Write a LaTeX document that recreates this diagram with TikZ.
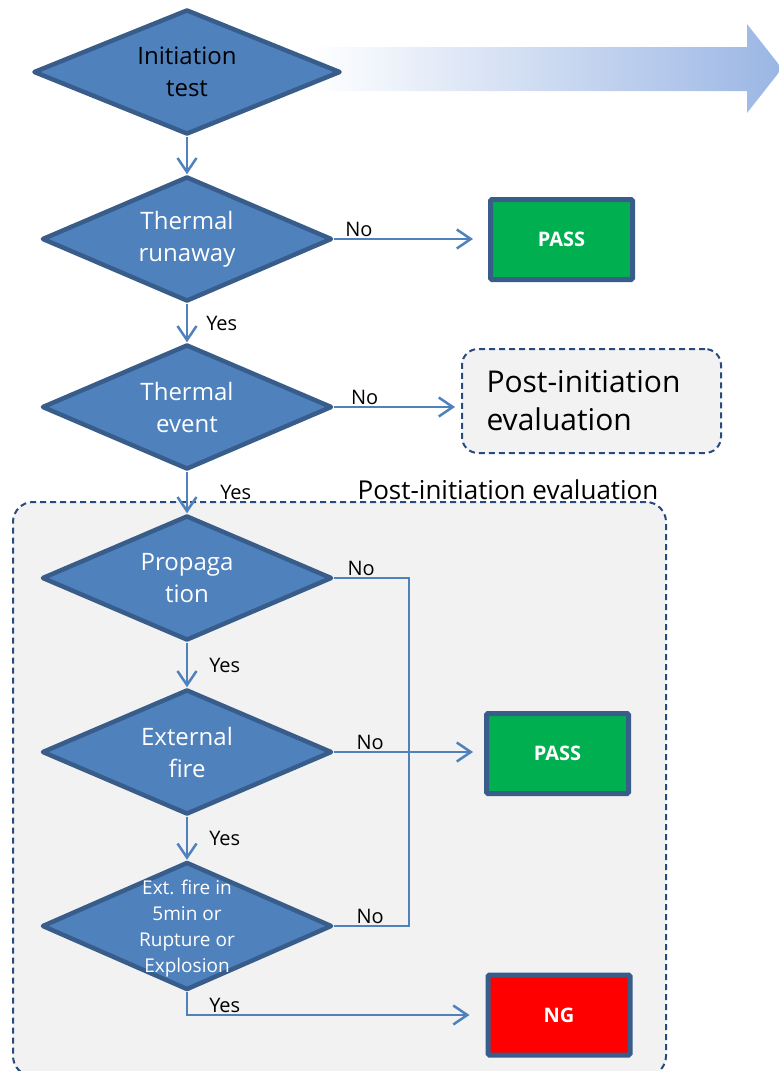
\documentclass[tikz,border=0pt]{standalone}
\usepackage{fontspec}
\setmainfont{Open Sans}
\usepackage{xcolor}
\usepackage{tikz}
\usetikzlibrary{arrows.meta, shapes.geometric}
\definecolor{diablue}{RGB}{79,129,189}
\definecolor{diaedge}{RGB}{56,93,138}
\definecolor{passgreen}{RGB}{0,176,80}
\definecolor{ngred}{RGB}{255,0,0}
\definecolor{panelgray}{RGB}{242,242,242}
\definecolor{dashblue}{RGB}{40,75,125}
\definecolor{arrowblue}{RGB}{155,182,228}

\begin{document}
\begin{tikzpicture}[x=1pt, y=-1pt,
  >={Straight Barb[length=14pt, width=19pt]},
  dia/.style={diamond, draw=diaedge, fill=diablue, line width=4.5pt, line join=round,
              minimum width=#1, minimum height=125pt, inner sep=0pt, aspect=2.3,
              text=white, align=center, font=\fontsize{24}{32}\selectfont},
  dia/.default=290pt,
  dtxt/.style={text=white, align=center, inner sep=0pt, font=\fontsize{19}{26}\selectfont},
  conn/.style={draw=diablue, line width=2.5pt},
  lbl/.style={font=\fontsize{20}{24}\selectfont, inner sep=1pt, text=black},
  res/.style={rectangle, draw=diaedge, line width=5pt, rounded corners=1.5pt,
              minimum width=142pt, minimum height=80pt, text=white,
              font=\fontsize{20}{24}\selectfont\bfseries},
  pbox/.style={draw=dashblue, fill=panelgray, line width=2pt,
               dash pattern=on 6pt off 4pt, rounded corners=16pt}
]
\useasboundingbox (0,0) rectangle (779,1071);
% evaluation panel behind the lower part
\node[pbox, rounded corners=20pt, minimum width=653pt, minimum height=574pt] (evalpanel) at (339.5,789) {};
\node[font=\fontsize{26}{30}\selectfont] (evaltitle) at (508,490) {Post-initiation evaluation};
% big arrow
\shade[left color=white, right color=arrowblue]
  (310,47) -- (747,47) -- (747,24) -- (782,68.5) -- (747,113) -- (747,91) -- (310,91) -- cycle;
% decisions
\node[dia=307pt, text=black] (init) at (187,72) {Initiation\\test};
\node[dia] (runaway) at (187,239) {Thermal\\runaway};
\node[dia] (event) at (187,407) {Thermal\\event};
\node[dia] (prop) at (187,578) {Propaga\\tion};
\node[dia] (extfire) at (187,752) {External\\fire};
\node[dia, minimum height=128pt] (rupture) at (187,926) {};
\node[dtxt] (rupturetxt) at (187,929) {Ext. fire in\\5min or\\Rupture or\\Explosion};
% results
\node[res, fill=passgreen] (pass1) at (561.5,239.5) {PASS};
\node[res, fill=passgreen] (pass2) at (557.5,753.5) {PASS};
\node[res, fill=ngred] (ng) at (559,1015) {NG};
\node[pbox, minimum width=259pt, minimum height=104pt, text width=210pt, align=left,
      font=\fontsize{30}{38}\selectfont] (post) at (591.5,401) {Post-initiation\\evaluation};
% connectors
\coordinate (jn) at (409,752);
\draw[conn, ->] (init.south) -- (runaway.north);
\draw[conn, ->] (runaway.south) -- node[lbl, right=17pt] (yes1) {Yes} (event.north);
\draw[conn, ->] (event.south) -- node[lbl, right=31pt] (yes2) {Yes} (prop.north);
\draw[conn, ->] (prop.south) -- node[lbl, right=20pt] (yes3) {Yes} (extfire.north);
\draw[conn, ->] (extfire.south) -- node[lbl, right=20pt] (yes4) {Yes} (rupture.north);
\draw[conn, ->, shorten >=16pt] (rupture.south) |-
  node[lbl, pos=0.5, anchor=south west, xshift=20pt] (yes5) {Yes} (ng.west);
\draw[conn, ->, shorten >=15pt] (runaway.east) -- node[lbl, above, pos=0.16] (no1) {No} (runaway.east -| pass1.west);
\draw[conn, ->, shorten >=6pt] (event.east) -- node[lbl, above, pos=0.24] (no2) {No} (event.east -| post.west);
\draw[conn] (prop.east) -| node[lbl, above, pos=0.18] (no3) {No} (jn);
\draw[conn, ->, shorten >=11pt] (extfire.east) -- node[lbl, above, pos=0.24] (no4) {No} (extfire.east -| pass2.west);
\draw[conn] (rupture.east) -| node[lbl, above, pos=0.24] (no5) {No} (jn);
\end{tikzpicture}
\end{document}
